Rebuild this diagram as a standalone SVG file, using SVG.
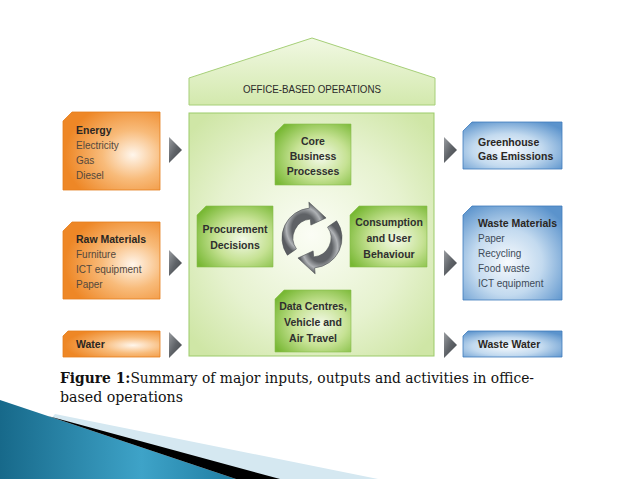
<svg xmlns="http://www.w3.org/2000/svg" width="638" height="479" viewBox="0 0 638 479">
<defs>
<radialGradient id="gOrange" cx="0.72" cy="0.55" r="0.7">
<stop offset="0" stop-color="#fff6ec"/>
<stop offset="0.45" stop-color="#f8bb7a"/>
<stop offset="1" stop-color="#ee8726"/>
</radialGradient>
<radialGradient id="gBlue" cx="0.45" cy="0.6" r="0.7">
<stop offset="0" stop-color="#f7fafd"/>
<stop offset="0.5" stop-color="#c3daef"/>
<stop offset="1" stop-color="#5b93cc"/>
</radialGradient>
<radialGradient id="gGreen" cx="0.6" cy="0.55" r="0.7">
<stop offset="0" stop-color="#f3f9e8"/>
<stop offset="0.5" stop-color="#c6e294"/>
<stop offset="1" stop-color="#78b834"/>
</radialGradient>
<radialGradient id="gMain" cx="0.5" cy="0.5" r="0.65">
<stop offset="0" stop-color="#fbfdf5"/>
<stop offset="0.6" stop-color="#e6f2cf"/>
<stop offset="1" stop-color="#cfe6a6"/>
</radialGradient>
<linearGradient id="gRoof" x1="0" y1="0" x2="0" y2="1">
<stop offset="0" stop-color="#f1f8e3"/>
<stop offset="1" stop-color="#d3e9ad"/>
</linearGradient>
<linearGradient id="gGray" x1="0" y1="0" x2="1" y2="1">
<stop offset="0" stop-color="#9a9da1"/>
<stop offset="0.5" stop-color="#5f6368"/>
<stop offset="1" stop-color="#45484c"/>
</linearGradient>
<radialGradient id="gCycle" cx="0.5" cy="0.5" r="0.5">
<stop offset="0.55" stop-color="#5f6266"/>
<stop offset="0.8" stop-color="#b0b3b6"/>
<stop offset="1" stop-color="#5a5d61"/>
</radialGradient>
<linearGradient id="gWedge" x1="0" y1="0" x2="1" y2="0">
<stop offset="0" stop-color="#17698a"/>
<stop offset="0.6" stop-color="#3ea3c8"/>
<stop offset="1" stop-color="#1f7da2"/>
</linearGradient>
<style>
.orange{fill:url(#gOrange);stroke:#e47f1c;stroke-width:0.8}
.blue{fill:url(#gBlue);stroke:#3f7cbc;stroke-width:0.8}
.green{fill:url(#gGreen);stroke:#86bd4c;stroke-width:0.6}
.tri{fill:url(#gGray)}
.h{font-family:"Liberation Sans",Arial,sans-serif;font-weight:bold;font-size:10.5px;fill:#2a2622}
.i{font-family:"Liberation Sans",Arial,sans-serif;font-size:10px;fill:#54483c}
.ib{font-family:"Liberation Sans",Arial,sans-serif;font-size:10px;fill:#3d4a58}
.c{font-family:"Liberation Sans",Arial,sans-serif;font-weight:bold;font-size:10.5px;fill:#2f2f2f;text-anchor:middle}
.cap{font-family:"DejaVu Serif","Liberation Serif",serif;font-size:14.5px;fill:#111}
</style>
</defs>
<rect width="638" height="479" fill="#ffffff"/>

<g id="decoration">
<polygon points="55,414 378,479 0,479" fill="#d5e8f1"/>
<polygon points="0,400 236,479 0,479" fill="url(#gWedge)"/>
<polygon points="48,416 280,479 236,479" fill="#000"/>
</g>

<g id="office">
<polygon points="189,78 312,38 435,78 435,105 189,105" fill="url(#gRoof)" stroke="#a6cf78" stroke-width="1"/>
<text x="312" y="93" font-family="'Liberation Sans',Arial,sans-serif" font-size="10.5" fill="#2a2a2a" text-anchor="middle" textLength="138" lengthAdjust="spacingAndGlyphs">OFFICE-BASED OPERATIONS</text>
<rect x="189" y="113" width="245" height="243" fill="url(#gMain)" stroke="#9ccb6a" stroke-width="1"/>
</g>

<g id="connectors">
<polygon class="tri" points="169,137 182,150 169,163"/>
<polygon class="tri" points="169,250 182,263 169,276"/>
<polygon class="tri" points="169,332 182,345 169,358"/>
<polygon class="tri" points="444,137 457,150 444,163"/>
<polygon class="tri" points="444,250 457,263 444,276"/>
<polygon class="tri" points="444,332 457,345 444,358"/>
</g>

<g id="energy">
<polygon class="orange" points="72,112 160,112 160,190 63,190 63,121"/>
<text class="h" x="76" y="134">Energy</text>
<text class="i" x="76" y="149">Electricity</text>
<text class="i" x="76" y="164">Gas</text>
<text class="i" x="76" y="179">Diesel</text>
</g>
<g id="raw-materials">
<polygon class="orange" points="72,222 160,222 160,299 63,299 63,231"/>
<text class="h" x="76" y="243">Raw Materials</text>
<text class="i" x="76" y="258">Furniture</text>
<text class="i" x="76" y="273">ICT equipment</text>
<text class="i" x="76" y="288">Paper</text>
</g>
<g id="water">
<polygon class="orange" points="68,331 160,331 160,357 63,357 63,336"/>
<text class="h" x="76" y="348">Water</text>
</g>

<g id="core">
<polygon class="green" points="284,124 351,124 351,185 275,185 275,133"/>
<text class="c" x="313" y="145">Core</text>
<text class="c" x="313" y="160">Business</text>
<text class="c" x="313" y="175">Processes</text>
</g>
<g id="procurement">
<polygon class="green" points="206,206 273,206 273,267 197,267 197,215"/>
<text class="c" x="235" y="233">Procurement</text>
<text class="c" x="235" y="249">Decisions</text>
</g>
<g id="consumption">
<polygon class="green" points="359,206 427,206 427,267 350,267 350,215"/>
<text class="c" x="389" y="226">Consumption</text>
<text class="c" x="389" y="242">and User</text>
<text class="c" x="389" y="258">Behaviour</text>
</g>
<g id="data-centres">
<polygon class="green" points="284,290 351,290 351,352 275,352 275,299"/>
<text class="c" x="313" y="310">Data Centres,</text>
<text class="c" x="313" y="326">Vehicle and</text>
<text class="c" x="313" y="342">Air Travel</text>
</g>
<g id="cycle">
<path fill="url(#gCycle)" stroke="#4a4d51" stroke-width="0.6" d="M 287.43 255.21 A 30 30 0 0 1 309.39 208.11 L 308.86 202.14 L 326.05 217.93 L 310.87 225.05 L 310.34 219.07 A 19 19 0 0 0 296.44 248.90 Z"/>
<path fill="url(#gCycle)" stroke="#4a4d51" stroke-width="0.6" d="M 336.57 220.79 A 30 30 0 0 1 314.61 267.89 L 315.14 273.86 L 297.95 258.07 L 313.13 250.95 L 313.66 256.93 A 19 19 0 0 0 327.56 227.10 Z"/>
</g>

<g id="ghg">
<polygon class="blue" points="472,122 562,122 562,169 463,169 463,131"/>
<text class="h" x="478" y="146">Greenhouse</text>
<text class="h" x="478" y="160">Gas Emissions</text>
</g>
<g id="waste-materials">
<polygon class="blue" points="472,206 562,206 562,300 463,300 463,215"/>
<text class="h" x="478" y="227">Waste Materials</text>
<text class="ib" x="478" y="242">Paper</text>
<text class="ib" x="478" y="257">Recycling</text>
<text class="ib" x="478" y="272">Food waste</text>
<text class="ib" x="478" y="287">ICT equipment</text>
</g>
<g id="waste-water">
<polygon class="blue" points="468,331 562,331 562,357 463,357 463,336"/>
<text class="h" x="478" y="348">Waste Water</text>
</g>

<g id="caption">
<text class="cap" x="60" y="383" textLength="474" lengthAdjust="spacingAndGlyphs"><tspan font-weight="bold">Figure 1:</tspan>Summary of major inputs, outputs and activities in office-</text>
<text class="cap" x="60" y="402" textLength="123" lengthAdjust="spacingAndGlyphs">based operations</text>
</g>
</svg>
